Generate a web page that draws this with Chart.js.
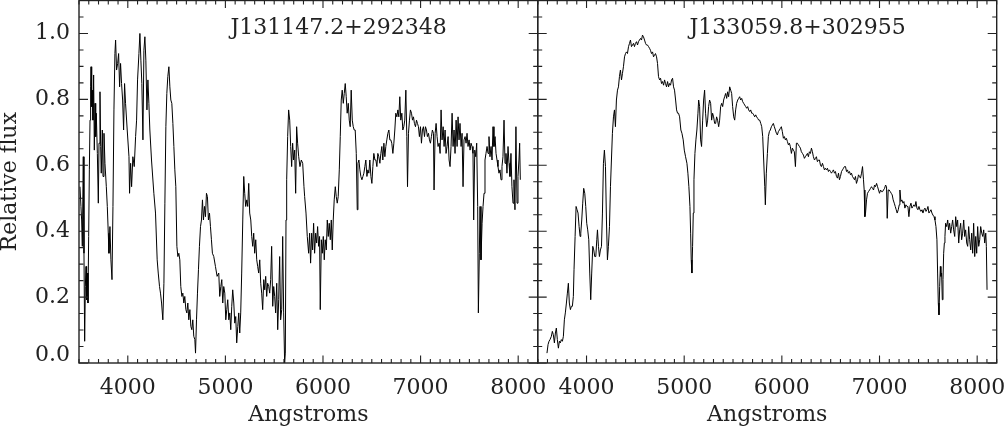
<!DOCTYPE html>
<html><head><meta charset="utf-8">
<script src="https://cdn.jsdelivr.net/npm/chart.js@4/dist/chart.umd.min.js"></script>
<style>
html,body{margin:0;padding:0;background:#fff;overflow:hidden}
#wrap{position:relative;width:1004px;height:431px;background:#fff}
canvas{position:absolute;left:0;top:0}
</style></head><body>
<div id="wrap"><canvas id="cA" width="1004" height="431"></canvas><canvas id="cB" width="1004" height="431"></canvas></div>
<script>
const panelNames = ['J131147.2+292348', 'J133059.8+302955'];
const xLabel = 'Angstroms';
const yLabel = 'Relative flux';
const xRange = [3500, 8200];
const yRange = [0, 1.1];
const xMajorTicks = [4000, 5000, 6000, 7000, 8000];
const yMajorTicks = [0, 0.2, 0.4, 0.6, 0.8, 1.0];
const xMinorStep = 100;
const yMinorStep = 0.05;

// Left spectrum: J131147.2+292348
const leftWave = [
3510,3520,3527,3534,3544,3551,3558,3565,3572,3578,3585,3592,3599,3606,3613,3619,3623,3630,3636,3643,
3650,3657,3664,3671,3677,3688,3698,3705,3715,3722,3728,3739,3746,3756,3766,3780,3790,3800,3807,3817,
3827,3838,3848,3858,3868,3875,3885,3896,3906,3916,3926,3936,3947,3957,3967,3977,3994,4012,4018,4029,
4039,4052,4066,4080,4090,4100,4114,4124,4134,4144,4155,4165,4175,4185,4196,4206,4216,4226,4243,4267,
4284,4301,4312,4325,4335,4346,4359,4370,4380,4390,4400,4410,4421,4431,4441,4451,4462,4472,4482,4492,
4503,4513,4523,4533,4543,4554,4564,4574,4584,4595,4605,4615,4625,4636,4646,4656,4666,4676,4687,4694,
4704,4714,4724,4734,4745,4755,4765,4775,4786,4796,4806,4816,4826,4837,4847,4857,4867,4881,4898,4915,
4932,4942,4953,4963,4973,4983,4994,5004,5014,5024,5035,5045,5055,5065,5075,5086,5096,5106,5116,5127,
5137,5147,5157,5167,5178,5188,5198,5208,5219,5229,5239,5249,5260,5270,5280,5290,5300,5311,5321,5331,
5341,5352,5362,5372,5382,5393,5403,5413,5423,5433,5444,5454,5464,5474,5485,5495,5505,5515,5526,5536,
5546,5556,5566,5577,5587,5597,5607,5614,5621,5628,5638,5648,5659,5669,5679,5689,5699,5710,5720,5730,
5740,5751,5764,5778,5792,5805,5812,5826,5839,5853,5863,5873,5884,5894,5904,5914,5925,5935,5945,5955,
5965,5972,5983,5993,6003,6013,6023,6034,6044,6054,6064,6075,6085,6095,6105,6115,6126,6136,6146,6156,
6167,6177,6187,6197,6208,6218,6228,6238,6248,6259,6269,6279,6289,6300,6310,6320,6330,6341,6351,6358,
6368,6378,6388,6399,6409,6419,6429,6439,6450,6460,6470,6480,6491,6501,6511,6521,6532,6542,6552,6562,
6572,6583,6593,6603,6613,6624,6634,6644,6654,6665,6675,6685,6695,6705,6716,6726,6736,6746,6757,6767,
6777,6787,6797,6808,6818,6828,6838,6849,6859,6866,6876,6886,6896,6907,6917,6927,6937,6948,6958,6968,
6978,6988,6999,7009,7019,7029,7040,7050,7060,7070,7081,7091,7101,7111,7121,7132,7138,7149,7159,7169,
7179,7190,7200,7210,7220,7231,7241,7251,7261,7271,7282,7292,7302,7312,7323,7333,7343,7353,7364,7374,
7384,7394,7404,7415,7425,7435,7445,7456,7466,7476,7486,7497,7507,7517,7527,7537,7544,7555,7565,7575,
7585,7592,7602,7609,7619,7630,7640,7650,7660,7670,7681,7691,7701,7711,7722,7732,7742,7752,7763,7773,
7783,7793,7803,7814,7824,7834,7844,7855,7865,7875,7885,7896,7906,7916,7926,7936,7947,7957,7967,7977,
7988,7998,8008,8015,8022
];
const leftFlux = [
.535,.475,.434,.354,.626,.333,.066,.232,.293,.192,.273,.182,.384,.586,.737,.838,.899,.778,.828,.737,
.874,.646,.788,.687,.758,.636,.485,.667,.823,.657,.576,.707,.566,.697,.606,.535,.475,.394,.333,.414,
.313,.253,.475,.768,.939,.980,.889,.909,.939,.838,.909,.848,.798,.707,.848,.788,.707,.626,.515,.606,
.535,.626,.596,.687,.737,.859,.939,1.000,.919,.848,.677,.949,.990,.919,.768,.859,.788,.707,.616,.515,
.455,.313,.273,.232,.212,.182,.131,.242,.485,.717,.818,.869,.899,.838,.798,.788,.727,.657,.586,.535,
.354,.323,.333,.313,.232,.202,.212,.182,.202,.162,.152,.182,.131,.162,.111,.101,.131,.081,.071,.030,
.131,.212,.283,.354,.414,.434,.495,.434,.475,.444,.515,.505,.434,.455,.414,.374,.333,.323,.293,.263,
.273,.202,.232,.253,.182,.232,.212,.131,.162,.192,.131,.152,.101,.172,.222,.182,.121,.141,.061,.111,
.152,.091,.152,.273,.434,.566,.515,.475,.495,.475,.545,.455,.434,.384,.354,.394,.333,.374,.313,.293,
.273,.313,.242,.212,.162,.253,.222,.263,.202,.242,.232,.212,.253,.354,.172,.232,.202,.152,.242,.101,
.192,.323,.131,.162,.384,.152,.000,.030,.434,.556,.687,.768,.737,.657,.596,.667,.616,.646,.515,.717,
.667,.626,.596,.616,.606,.535,.505,.455,.384,.333,.394,.303,.394,.343,.424,.333,.394,.364,.414,.354,
.384,.162,.374,.333,.384,.313,.374,.343,.434,.384,.424,.374,.434,.343,.434,.495,.535,.505,.485,.505,
.586,.687,.798,.828,.788,.818,.848,.808,.758,.788,.737,.717,.828,.737,.717,.707,.707,.636,.465,.606,
.616,.586,.566,.556,.566,.576,.596,.616,.566,.586,.576,.616,.566,.545,.596,.636,.616,.616,.596,.636,
.626,.606,.636,.657,.616,.667,.626,.657,.677,.697,.707,.677,.677,.667,.636,.667,.707,.758,.747,.768,
.747,.808,.737,.758,.707,.717,.737,.828,.687,.535,.697,.737,.768,.758,.737,.747,.727,.717,.737,.727,
.717,.687,.717,.667,.707,.717,.687,.717,.707,.687,.697,.677,.667,.687,.707,.697,.525,.697,.727,.687,
.657,.667,.636,.768,.677,.717,.657,.707,.636,.657,.687,.616,.596,.657,.758,.657,.707,.636,.737,.657,
.747,.677,.727,.657,.697,.535,.677,.687,.667,.697,.657,.677,.646,.667,.657,.636,.434,.646,.626,.667,
.475,.152,.333,.475,.313,.424,.475,.515,.616,.636,.657,.636,.687,.626,.657,.616,.717,.657,.687,.636,
.616,.596,.576,.586,.556,.596,.626,.737,.606,.636,.576,.657,.606,.566,.636,.535,.485,.556,.465,.717,
.485,.566,.616,.667,.556
];

// Right spectrum: J133059.8+302955
const rightWave = [
3595,3606,3616,3626,3640,3650,3660,3671,3681,3691,3701,3712,3722,3732,3742,3753,3763,3773,3783,3794,
3804,3814,3824,3835,3845,3855,3865,3872,3883,3893,3903,3913,3924,3934,3941,3951,3961,3971,3982,3992,
4002,4012,4023,4033,4043,4053,4064,4074,4084,4095,4105,4112,4122,4132,4142,4153,4163,4173,4183,4194,
4204,4214,4224,4235,4245,4255,4265,4276,4286,4296,4306,4317,4327,4337,4347,4358,4368,4378,4389,4399,
4409,4419,4430,4440,4450,4460,4471,4481,4491,4501,4512,4522,4532,4542,4553,4563,4573,4583,4594,4604,
4614,4624,4635,4645,4655,4665,4676,4686,4696,4706,4717,4727,4737,4748,4758,4768,4778,4789,4799,4809,
4819,4830,4840,4850,4860,4871,4881,4891,4901,4912,4922,4932,4942,4953,4966,4977,4990,5001,5014,5028,
5038,5048,5059,5066,5072,5079,5086,5093,5100,5110,5120,5130,5141,5148,5158,5168,5178,5189,5199,5209,
5219,5230,5240,5250,5260,5271,5281,5291,5301,5312,5322,5332,5342,5353,5363,5373,5384,5394,5404,5414,
5425,5435,5445,5455,5466,5476,5486,5496,5507,5517,5527,5537,5548,5558,5568,5578,5589,5599,5609,5619,
5630,5640,5650,5660,5671,5681,5691,5701,5712,5722,5732,5742,5753,5763,5773,5784,5794,5804,5814,5825,
5831,5841,5852,5862,5872,5882,5893,5903,5913,5923,5934,5944,5954,5964,5975,5985,5995,6005,6016,6026,
6036,6046,6057,6067,6077,6087,6098,6108,6118,6128,6139,6149,6159,6169,6180,6190,6200,6211,6221,6231,
6241,6252,6262,6272,6282,6293,6303,6313,6323,6334,6344,6354,6364,6375,6385,6395,6405,6416,6426,6436,
6446,6457,6467,6477,6487,6498,6508,6518,6528,6539,6549,6559,6570,6580,6590,6600,6611,6621,6631,6641,
6652,6662,6672,6682,6693,6703,6713,6723,6734,6744,6754,6764,6775,6785,6795,6805,6816,6826,6836,6843,
6850,6857,6867,6877,6887,6898,6908,6918,6928,6939,6949,6959,6970,6980,6990,7000,7011,7021,7031,7041,
7052,7062,7072,7079,7089,7099,7110,7120,7130,7140,7151,7161,7171,7181,7192,7202,7209,7219,7229,7240,
7250,7260,7270,7281,7291,7301,7311,7322,7332,7342,7352,7363,7373,7383,7393,7404,7414,7424,7435,7445,
7455,7465,7476,7486,7496,7506,7517,7527,7537,7547,7558,7568,7578,7588,7595,7602,7609,7616,7623,7629,
7636,7643,7650,7657,7664,7670,7677,7688,7698,7708,7718,7729,7739,7749,7759,7770,7780,7790,7800,7811,
7821,7831,7841,7851,7862,7872,7882,7893,7903,7913,7923,7934,7944,7954,7964,7975,7985,7995,8005,8016,
8026,8036,8047,8057,8067,8077,8088,8094,8101
];
const rightFlux = [
.030,.056,.066,.071,.081,.096,.086,.061,.091,.106,.071,.045,.066,.061,.071,.066,.081,.131,.152,.182,
.212,.242,.182,.162,.172,.172,.202,.283,.384,.475,.465,.455,.414,.384,.394,.434,.485,.530,.515,.475,
.424,.404,.374,.273,.192,.273,.354,.343,.323,.323,.374,.404,.354,.323,.343,.354,.455,.606,.646,.596,
.434,.313,.354,.414,.535,.616,.697,.747,.768,.717,.798,.828,.838,.869,.889,.859,.879,.899,.929,.939,
.944,.939,.960,.970,.980,.960,.965,.970,.960,.970,.975,.965,.975,.980,.985,.980,.995,.990,.980,.970,
.965,.965,.960,.955,.949,.939,.944,.929,.934,.939,.929,.909,.869,.859,.864,.848,.854,.843,.859,.848,
.838,.854,.838,.848,.843,.859,.864,.838,.828,.798,.768,.758,.758,.747,.707,.697,.677,.646,.626,.606,
.576,.535,.475,.394,.313,.273,.354,.455,.556,.636,.677,.707,.758,.798,.778,.677,.657,.737,.798,.828,
.758,.717,.737,.778,.798,.788,.737,.758,.747,.727,.727,.747,.737,.717,.737,.778,.788,.778,.798,.808,
.818,.803,.823,.808,.838,.828,.818,.778,.747,.737,.768,.788,.798,.803,.808,.798,.803,.793,.788,.783,
.778,.773,.778,.768,.763,.768,.758,.758,.753,.747,.753,.747,.742,.737,.737,.727,.717,.687,.616,.535,
.480,.576,.636,.687,.702,.707,.717,.722,.727,.717,.707,.697,.692,.702,.707,.712,.717,.702,.682,.687,
.677,.682,.672,.662,.667,.657,.636,.652,.646,.641,.596,.667,.667,.662,.657,.652,.641,.636,.631,.621,
.626,.631,.636,.626,.641,.636,.652,.641,.626,.616,.621,.626,.611,.616,.616,.601,.596,.606,.596,.586,
.591,.586,.591,.581,.586,.581,.576,.581,.586,.576,.581,.566,.561,.576,.556,.566,.581,.586,.591,.596,
.596,.581,.586,.576,.581,.571,.576,.566,.561,.556,.566,.545,.556,.571,.566,.561,.576,.596,.556,.525,
.444,.455,.495,.515,.520,.525,.530,.535,.530,.525,.540,.535,.545,.535,.525,.515,.525,.520,.520,.525,
.530,.540,.535,.439,.525,.525,.520,.515,.510,.495,.485,.475,.465,.455,.465,.480,.525,.490,.495,.485,
.490,.470,.480,.475,.475,.444,.475,.485,.470,.475,.480,.475,.490,.470,.465,.475,.465,.460,.465,.455,
.465,.470,.460,.465,.475,.455,.460,.465,.455,.449,.444,.434,.414,.374,.273,.182,.146,.232,.293,.263,
.273,.192,.253,.333,.364,.384,.424,.414,.434,.404,.424,.394,.414,.434,.404,.384,.444,.414,.434,.364,
.404,.424,.374,.394,.434,.384,.404,.364,.354,.414,.374,.343,.394,.333,.424,.323,.384,.333,.414,.354,
.374,.414,.394,.384,.404,.364,.394,.354,.222
];

const FONT_FAMILY = '"DejaVu Serif", "Liberation Serif", serif';
const INK = '#222';

const framePlugin = {
  id: 'frame',
  afterDatasetsDraw(chart, args, opts) {
    const {ctx, chartArea: a, scales: {x, y}} = chart;
    ctx.save();
    ctx.strokeStyle = INK;
    ctx.lineWidth = 1.4;
    ctx.strokeRect(a.left, a.top, a.right - a.left, a.bottom - a.top);
    ctx.beginPath();
    const nx = Math.round((xRange[1] - xRange[0]) / xMinorStep);
    for (let i = 0; i <= nx; i++) {
      const v = xRange[0] + i * xMinorStep;
      const L = xMajorTicks.includes(v) ? 7.5 : 4;
      const px = x.getPixelForValue(v);
      ctx.moveTo(px, a.bottom); ctx.lineTo(px, a.bottom - L);
      ctx.moveTo(px, a.top); ctx.lineTo(px, a.top + L);
    }
    const ny = Math.round((yRange[1] - yRange[0]) / yMinorStep);
    for (let i = 0; i <= ny; i++) {
      const v = yRange[0] + i * yMinorStep;
      const L = yMajorTicks.some(t => Math.abs(t - v) < 1e-9) ? 9 : 4.5;
      const py = y.getPixelForValue(v);
      ctx.moveTo(a.left, py); ctx.lineTo(a.left + L, py);
      ctx.moveTo(a.right, py); ctx.lineTo(a.right - L, py);
    }
    ctx.lineWidth = 1.1;
    ctx.stroke();
    ctx.font = '22px ' + FONT_FAMILY;
    ctx.fillStyle = INK;
    ctx.textAlign = 'right';
    ctx.textBaseline = 'alphabetic';
    ctx.fillText(opts.name, a.right - 91, 34);
    ctx.restore();
  }
};

function makePanel(canvasId, wave, flux, name, showY, padding) {
  const pts = wave.map((w, i) => ({x: w, y: flux[i]}));
  return new Chart(document.getElementById(canvasId), {
    type: 'line',
    data: {datasets: [{data: pts, borderColor: '#000', borderWidth: 1, pointRadius: 0, fill: false, tension: 0}]},
    plugins: [framePlugin],
    options: {
      responsive: false, animation: false, devicePixelRatio: 1, events: [],
      layout: {padding: padding},
      plugins: {legend: {display: false}, tooltip: {enabled: false}, frame: {name: name}},
      scales: {
        x: {
          type: 'linear', position: 'bottom', min: xRange[0], max: xRange[1],
          grid: {display: false, drawTicks: false}, border: {display: false},
          ticks: {color: INK, padding: 12, autoSkip: false, maxRotation: 0,
                  font: {family: FONT_FAMILY, size: 22}, callback: v => String(v)},
          afterBuildTicks: s => { s.ticks = xMajorTicks.map(v => ({value: v})); },
          afterFit: s => { s.height = 68; s.paddingLeft = 0; s.paddingRight = 0; },
          title: {display: true, text: xLabel, color: INK, font: {family: FONT_FAMILY, size: 22}, padding: {top: 0, bottom: 3}}
        },
        y: {
          type: 'linear', position: 'left', min: yRange[0], max: yRange[1], display: showY,
          grid: {display: false, drawTicks: false}, border: {display: false},
          ticks: {color: INK, padding: 9, autoSkip: false,
                  font: c => ({family: FONT_FAMILY, size: 22, lineHeight: (c.tick && c.tick.value === 0) ? 0.7 : 1.2}),
                  callback: v => v === 0 ? ['0.0', ''] : v.toFixed(1)},
          afterBuildTicks: s => { s.ticks = yMajorTicks.map(v => ({value: v})); },
          afterFit: s => { if (showY) s.width = 79; s.paddingTop = 0; s.paddingBottom = 0; },
          title: {display: true, text: yLabel, color: INK, font: {family: FONT_FAMILY, size: 22, lineHeight: 0.9}, padding: 0}
        }
      }
    }
  });
}

makePanel('cA', leftWave, leftFlux, panelNames[0], true, {left: 0, right: 466.3, top: 0.5, bottom: 0});
makePanel('cB', rightWave, rightFlux, panelNames[1], false, {left: 537.7, right: 7.3, top: 0.5, bottom: 0});
</script>
</body></html>
